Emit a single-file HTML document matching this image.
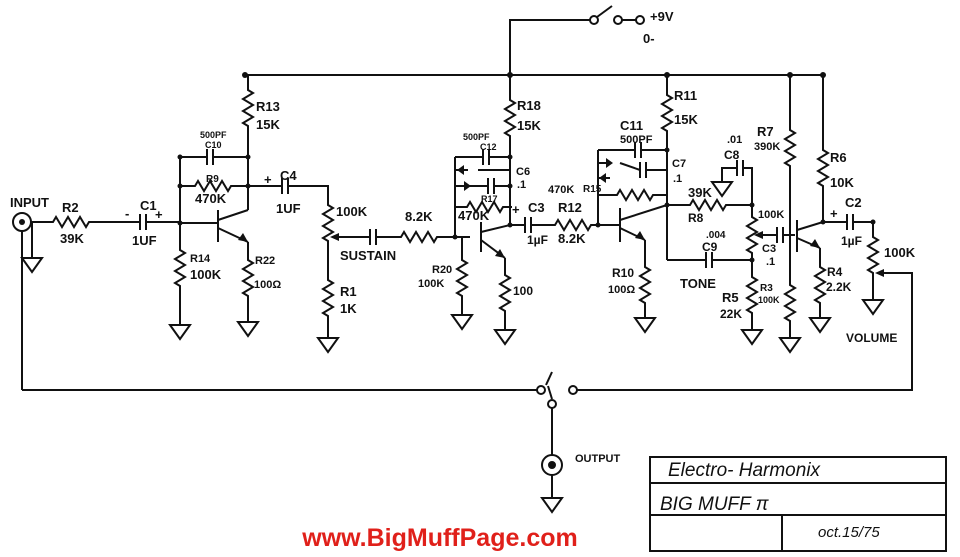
<!DOCTYPE html>
<html><head><meta charset="utf-8"><style>
html,body{margin:0;padding:0;background:#fff}
svg{display:block}
text{font-family:"Liberation Sans",sans-serif;fill:#111}
</style></head><body>
<svg width="960" height="557" viewBox="0 0 960 557" xmlns="http://www.w3.org/2000/svg">
<defs>
<path id="rv" d="M0,0 l0,5 l5,3 l-10,6 l10,6 l-10,6 l10,6 l-10,6 l5,3 l0,9" fill="none" stroke="#111" stroke-width="2"/>
<path id="rh" d="M0,0 l5,0 l3,-5 l6,10 l6,-10 l6,10 l6,-10 l6,10 l3,-5 l9,0" fill="none" stroke="#111" stroke-width="2"/>
<path id="gnd" d="M-10,0 h20 l-10,14 z" fill="none" stroke="#111" stroke-width="2"/>
<g id="ch"><line x1="-3" y1="-8" x2="-3" y2="8" stroke="#111" stroke-width="2"/><line x1="3" y1="-8" x2="3" y2="8" stroke="#111" stroke-width="2"/></g>
</defs>
<g stroke="#111" stroke-width="2" fill="none">
<line x1="245" y1="75" x2="823" y2="75"/>
<polyline points="510,75 510,20 590,20"/>
<circle cx="594" cy="20" r="4"/><line x1="597" y1="17" x2="612" y2="6"/>
<circle cx="618" cy="20" r="4"/><line x1="622" y1="20" x2="636" y2="20"/><circle cx="640" cy="20" r="4"/>
<circle cx="22" cy="222" r="9"/>
<line x1="31" y1="222" x2="50" y2="222"/>
<line x1="32" y1="222" x2="32" y2="258"/>
<line x1="98" y1="222" x2="140" y2="222"/><line x1="146" y1="222" x2="180" y2="222"/>
<line x1="22" y1="231" x2="22" y2="390"/>
<line x1="22" y1="390" x2="537" y2="390"/>
<line x1="248" y1="75" x2="248" y2="85"/><line x1="248" y1="135" x2="248" y2="210"/>
<polyline points="180,157 207,157"/><polyline points="213,157 248,157"/>
<line x1="180" y1="157" x2="180" y2="245"/>
<line x1="180" y1="186" x2="190" y2="186"/><line x1="238" y1="186" x2="248" y2="186"/>
<line x1="180" y1="223" x2="218" y2="223"/>
<line x1="218" y1="210" x2="218" y2="242"/>
<line x1="218" y1="220" x2="248" y2="210"/>
<line x1="218" y1="228" x2="248" y2="242"/>
<line x1="248" y1="242" x2="248" y2="255"/>
<line x1="180" y1="295" x2="180" y2="325"/>
<line x1="248" y1="305" x2="248" y2="322"/>
<line x1="248" y1="186" x2="282" y2="186"/><polyline points="288,186 328,186 328,200"/>
<line x1="328" y1="250" x2="328" y2="275"/><line x1="328" y1="325" x2="328" y2="338"/>
<line x1="336" y1="237" x2="370" y2="237"/><line x1="376" y1="237" x2="396" y2="237"/>
<line x1="446" y1="237" x2="470" y2="237"/>
<line x1="455" y1="157" x2="455" y2="237"/>
<line x1="462" y1="237" x2="462" y2="255"/><line x1="462" y1="305" x2="462" y2="315"/>
<line x1="455" y1="157" x2="483" y2="157"/><line x1="489" y1="157" x2="510" y2="157"/>
<line x1="455" y1="170" x2="468" y2="170"/><line x1="478" y1="170" x2="510" y2="170"/>
<line x1="455" y1="186" x2="488" y2="186"/><line x1="494" y1="186" x2="510" y2="186"/>
<line x1="455" y1="207" x2="462" y2="207"/>
<line x1="510" y1="75" x2="510" y2="95"/><line x1="510" y1="145" x2="510" y2="225"/>
<line x1="481" y1="222" x2="481" y2="252"/>
<line x1="481" y1="232" x2="510" y2="225"/>
<line x1="481" y1="240" x2="505" y2="258"/>
<line x1="505" y1="258" x2="505" y2="270"/><line x1="505" y1="320" x2="505" y2="330"/>
<line x1="510" y1="225" x2="525" y2="225"/><line x1="531" y1="225" x2="550" y2="225"/>
<line x1="598" y1="225" x2="620" y2="225"/>
<line x1="598" y1="150" x2="598" y2="225"/>
<line x1="598" y1="150" x2="635" y2="150"/><line x1="641" y1="150" x2="667" y2="150"/>
<line x1="598" y1="163" x2="610" y2="163"/><line x1="620" y1="163" x2="640" y2="170"/><line x1="646" y1="170" x2="667" y2="170"/>
<line x1="598" y1="178" x2="610" y2="178"/>
<line x1="598" y1="195" x2="612" y2="195"/><line x1="660" y1="195" x2="667" y2="195"/>
<line x1="667" y1="75" x2="667" y2="90"/><line x1="667" y1="140" x2="667" y2="260"/>
<line x1="620" y1="208" x2="620" y2="242"/>
<line x1="620" y1="220" x2="667" y2="205"/>
<line x1="620" y1="228" x2="645" y2="240"/><line x1="645" y1="240" x2="645" y2="262"/>
<line x1="645" y1="312" x2="645" y2="318"/>
<line x1="667" y1="205" x2="685" y2="205"/><line x1="733" y1="205" x2="752" y2="205"/>
<polyline points="722,182 722,168 737,168"/><polyline points="743,168 752,168 752,205"/>
<line x1="667" y1="260" x2="706" y2="260"/><line x1="712" y1="260" x2="752" y2="260"/>
<line x1="752" y1="205" x2="752" y2="212"/><line x1="752" y1="262" x2="752" y2="272"/><line x1="752" y1="322" x2="752" y2="330"/>
<line x1="760" y1="235" x2="777" y2="235"/><line x1="783" y1="235" x2="795" y2="235"/>
<line x1="790" y1="75" x2="790" y2="125"/><line x1="790" y1="175" x2="790" y2="280"/><line x1="790" y1="330" x2="790" y2="338"/>
<line x1="823" y1="75" x2="823" y2="145"/><line x1="823" y1="195" x2="823" y2="222"/>
<line x1="797" y1="220" x2="797" y2="252"/>
<line x1="797" y1="230" x2="823" y2="222"/>
<line x1="797" y1="238" x2="820" y2="248"/><line x1="820" y1="248" x2="820" y2="262"/><line x1="820" y1="312" x2="820" y2="318"/>
<line x1="823" y1="222" x2="847" y2="222"/><line x1="853" y1="222" x2="873" y2="222"/>
<line x1="873" y1="222" x2="873" y2="232"/><line x1="873" y1="282" x2="873" y2="300"/>
<polyline points="880,273 912,273 912,390 577,390"/>
<circle cx="541" cy="390" r="4"/><circle cx="573" cy="390" r="4"/>
<line x1="546" y1="385" x2="552" y2="372"/>
<circle cx="552" cy="404" r="4"/><line x1="552" y1="399" x2="548" y2="386"/>
<line x1="552" y1="408" x2="552" y2="455"/>
<circle cx="552" cy="465" r="10"/><circle cx="552" cy="465" r="3" fill="#111"/>
<line x1="552" y1="475" x2="552" y2="498"/>
<rect x="650" y="457" width="296" height="94"/>
<line x1="650" y1="483" x2="946" y2="483"/><line x1="650" y1="515" x2="946" y2="515"/>
<line x1="782" y1="515" x2="782" y2="551"/>
</g>
<use href="#rh" x="48" y="222"/>
<use href="#rv" x="248" y="85"/>
<use href="#rh" x="190" y="186"/>
<use href="#rv" x="180" y="245"/>
<use href="#rv" x="248" y="255"/>
<use href="#rv" x="328" y="200"/>
<use href="#rv" x="328" y="275"/>
<use href="#rh" x="396" y="237"/>
<use href="#rv" x="462" y="255"/>
<use href="#rv" x="510" y="95"/>
<use href="#rh" x="462" y="207"/>
<use href="#rv" x="505" y="270"/>
<use href="#rh" x="550" y="225"/>
<use href="#rv" x="667" y="90"/>
<use href="#rh" x="612" y="195"/>
<use href="#rv" x="645" y="262"/>
<use href="#rh" x="685" y="205"/>
<use href="#rv" x="752" y="212"/>
<use href="#rv" x="752" y="272"/>
<use href="#rv" x="790" y="125"/>
<use href="#rv" x="790" y="280"/>
<use href="#rv" x="823" y="145"/>
<use href="#rv" x="820" y="262"/>
<use href="#rv" x="873" y="232"/>
<use href="#ch" x="143" y="222"/><use href="#ch" x="210" y="157"/><use href="#ch" x="285" y="186"/>
<use href="#ch" x="373" y="237"/><use href="#ch" x="486" y="157"/><use href="#ch" x="491" y="186"/>
<use href="#ch" x="528" y="225"/><use href="#ch" x="638" y="150"/><use href="#ch" x="643" y="170"/>
<use href="#ch" x="740" y="168"/><use href="#ch" x="709" y="260"/><use href="#ch" x="780" y="235"/><use href="#ch" x="850" y="222"/>
<use href="#gnd" x="32" y="258"/><use href="#gnd" x="180" y="325"/><use href="#gnd" x="248" y="322"/>
<use href="#gnd" x="328" y="338"/><use href="#gnd" x="462" y="315"/><use href="#gnd" x="505" y="330"/>
<use href="#gnd" x="645" y="318"/><use href="#gnd" x="722" y="182"/><use href="#gnd" x="752" y="330"/>
<use href="#gnd" x="790" y="338"/><use href="#gnd" x="820" y="318"/><use href="#gnd" x="873" y="300"/><use href="#gnd" x="552" y="498"/>
<g fill="#111">
<path d="M464,165 l0,10 l-7,-5 z"/><path d="M464,181 l0,10 l7,-5 z"/>
<path d="M606,158 l0,10 l7,-5 z"/><path d="M606,173 l0,10 l-7,-5 z"/>
<path d="M248,242 l-10,-2 l5,-7 z"/><path d="M505,258 l-10,-2 l5,-7 z"/><path d="M645,240 l-10,-2 l5,-7 z"/><path d="M820,248 l-10,-2 l5,-7 z"/>
<path d="M330,237 l9,-4 l0,8 z"/><path d="M754,235 l9,-4 l0,8 z"/><path d="M875,273 l9,-4 l0,8 z"/>
<circle cx="245" cy="75" r="3"/><circle cx="510" cy="75" r="3"/><circle cx="667" cy="75" r="3"/><circle cx="790" cy="75" r="3"/><circle cx="823" cy="75" r="3"/>
<circle cx="180" cy="157" r="2.5"/><circle cx="248" cy="157" r="2.5"/><circle cx="180" cy="186" r="2.5"/><circle cx="248" cy="186" r="2.5"/><circle cx="180" cy="223" r="2.5"/>
<circle cx="22" cy="222" r="3"/><circle cx="455" cy="237" r="2.5"/><circle cx="510" cy="157" r="2.5"/><circle cx="510" cy="186" r="2.5"/><circle cx="510" cy="225" r="2.5"/>
<circle cx="598" cy="225" r="2.5"/><circle cx="667" cy="150" r="2.5"/><circle cx="667" cy="205" r="2.5"/><circle cx="752" cy="205" r="2.5"/><circle cx="752" cy="260" r="2.5"/>
<circle cx="823" cy="222" r="2.5"/><circle cx="873" cy="222" r="2.5"/>
</g>
<g font-size="13" font-weight="bold">
<text x="10" y="207">INPUT</text><text x="62" y="212">R2</text><text x="60" y="243">39K</text>
<text x="140" y="210">C1</text><text x="125" y="218">-</text><text x="155" y="219">+</text><text x="132" y="245">1UF</text>
<text x="256" y="111">R13</text><text x="256" y="129">15K</text>
<text x="200" y="138" font-size="9">500PF</text><text x="205" y="148" font-size="9">C10</text>
<text x="206" y="182" font-size="10">R9</text><text x="195" y="203">470K</text>
<text x="280" y="180">C4</text><text x="264" y="184">+</text><text x="276" y="213">1UF</text>
<text x="190" y="262" font-size="11">R14</text><text x="190" y="279">100K</text>
<text x="255" y="264" font-size="11">R22</text><text x="254" y="288" font-size="11">100Ω</text>
<text x="336" y="216">100K</text><text x="340" y="260">SUSTAIN</text><text x="340" y="296">R1</text><text x="340" y="313">1K</text>
<text x="405" y="221">8.2K</text>
<text x="432" y="273" font-size="11">R20</text><text x="418" y="287" font-size="11">100K</text>
<text x="463" y="140" font-size="9">500PF</text><text x="480" y="150" font-size="9">C12</text>
<text x="481" y="202" font-size="9">R17</text><text x="458" y="220">470K</text>
<text x="517" y="110">R18</text><text x="517" y="130">15K</text>
<text x="516" y="175" font-size="11">C6</text><text x="517" y="188" font-size="11">.1</text>
<text x="512" y="214">+</text><text x="528" y="212">C3</text><text x="527" y="244" font-size="12">1µF</text>
<text x="513" y="295" font-size="12">100</text>
<text x="558" y="212">R12</text><text x="558" y="243">8.2K</text>
<text x="548" y="193" font-size="11">470K</text><text x="583" y="192" font-size="10">R15</text>
<text x="620" y="130">C11</text><text x="620" y="143" font-size="11">500PF</text>
<text x="674" y="100">R11</text><text x="674" y="124">15K</text>
<text x="672" y="167" font-size="11">C7</text><text x="673" y="182" font-size="11">.1</text>
<text x="727" y="143" font-size="11">.01</text><text x="724" y="159" font-size="12">C8</text>
<text x="688" y="197">39K</text><text x="688" y="222" font-size="12">R8</text>
<text x="706" y="238" font-size="10">.004</text><text x="702" y="251" font-size="12">C9</text>
<text x="612" y="277" font-size="12">R10</text><text x="608" y="293" font-size="11">100Ω</text>
<text x="680" y="288">TONE</text><text x="722" y="302">R5</text><text x="720" y="318" font-size="12">22K</text>
<text x="758" y="218" font-size="11">100K</text>
<text x="762" y="252" font-size="11">C3</text><text x="766" y="265" font-size="11">.1</text>
<text x="757" y="136">R7</text><text x="754" y="150" font-size="11">390K</text>
<text x="760" y="291" font-size="10">R3</text><text x="758" y="303" font-size="9">100K</text>
<text x="830" y="162">R6</text><text x="830" y="187">10K</text>
<text x="830" y="218">+</text><text x="845" y="207">C2</text><text x="841" y="245" font-size="12">1µF</text>
<text x="827" y="276" font-size="12">R4</text><text x="826" y="291" font-size="12">2.2K</text>
<text x="884" y="257">100K</text><text x="846" y="342" font-size="12">VOLUME</text>
<text x="650" y="21">+9V</text><text x="643" y="43">0-</text>
<text x="575" y="462" font-size="11">OUTPUT</text>
</g>
<g font-family="Liberation Sans" font-style="italic" font-size="19">
<text x="668" y="476">Electro- Harmonix</text>
<text x="660" y="510">BIG MUFF π</text>
<text x="818" y="537" font-size="15">oct.15/75</text>
</g>
<text x="440" y="546" text-anchor="middle" font-family="Liberation Serif" font-weight="bold" font-size="25" style="fill:#e0201a">www.BigMuffPage.com</text>
</svg>
</body></html>
